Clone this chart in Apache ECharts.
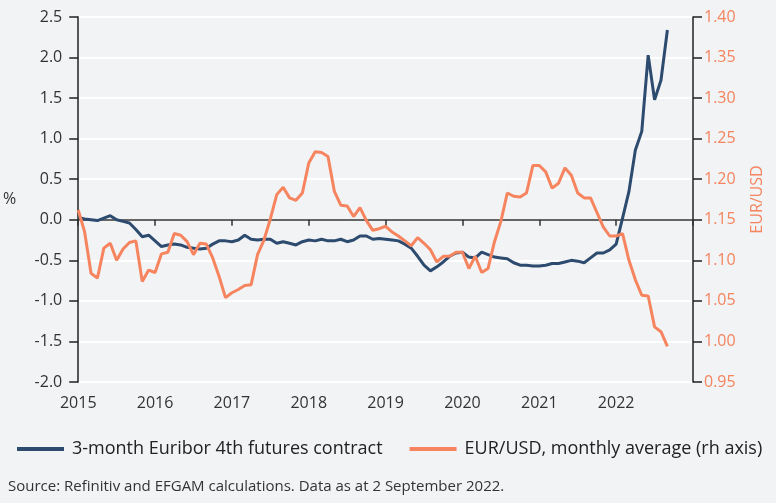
<!DOCTYPE html>
<html>
<head>
<meta charset="utf-8">
<script src="https://cdn.jsdelivr.net/npm/echarts@6/dist/echarts.min.js"></script>
<style>
  html, body { margin: 0; padding: 0; background: #f2f3f5; }
  #chart { width: 776px; height: 503px; }
</style>
</head>
<body>
<div id="chart"></div>
<script>
// monthly categories Jan 2015 .. Jan 2023 (last one is the right edge)
const months = [];
for (let y = 2015; y <= 2022; y++) {
  for (let m = 1; m <= 12; m++) months.push(y + '-' + (m < 10 ? '0' + m : m));
}
months.push('2023-01');

// 3-month Euribor 4th futures contract, %
const euribor = [
  0.03, 0.01, 0.00, -0.01, 0.02, 0.05, 0.00, -0.02, -0.04, -0.12, -0.21, -0.19,
  -0.26, -0.33, -0.31, -0.30, -0.31, -0.34, -0.35, -0.36, -0.35, -0.30, -0.26, -0.26,
  -0.27, -0.25, -0.19, -0.24, -0.25, -0.24, -0.24, -0.29, -0.27, -0.29, -0.31, -0.27,
  -0.25, -0.26, -0.24, -0.26, -0.26, -0.24, -0.27, -0.25, -0.20, -0.20, -0.24, -0.23,
  -0.24, -0.25, -0.26, -0.30, -0.35, -0.45, -0.56, -0.63, -0.58, -0.52, -0.45, -0.41,
  -0.40, -0.46, -0.47, -0.40, -0.43, -0.46, -0.47, -0.48, -0.53, -0.56, -0.56, -0.57,
  -0.57, -0.56, -0.54, -0.54, -0.52, -0.50, -0.51, -0.53, -0.47, -0.41, -0.41, -0.37,
  -0.30, 0.02, 0.35, 0.86, 1.09, 2.03, 1.48, 1.72, 2.34
];

// EUR/USD monthly average (rh axis)
const eurusd = [
  1.162, 1.135, 1.084, 1.078, 1.115, 1.121, 1.100, 1.114, 1.122, 1.124, 1.074, 1.088,
  1.085, 1.108, 1.110, 1.133, 1.131, 1.123, 1.107, 1.121, 1.120, 1.103, 1.080, 1.054,
  1.060, 1.064, 1.069, 1.070, 1.107, 1.125, 1.151, 1.181, 1.190, 1.177, 1.174, 1.183,
  1.220, 1.234, 1.233, 1.228, 1.185, 1.168, 1.167, 1.154, 1.165, 1.149, 1.137, 1.139,
  1.142, 1.135, 1.130, 1.124, 1.118, 1.128, 1.121, 1.113, 1.098, 1.105, 1.105, 1.110,
  1.110, 1.090, 1.105, 1.085, 1.090, 1.123, 1.148, 1.183, 1.179, 1.178, 1.183, 1.217,
  1.217, 1.209, 1.189, 1.195, 1.214, 1.205, 1.183, 1.177, 1.177, 1.159, 1.141, 1.130,
  1.130, 1.133, 1.100, 1.076, 1.057, 1.056, 1.018, 1.012, 0.994
];

const font = 'Open Sans';
const blue = '#2d4a6f';
const orange = '#f5845f';

const chart = echarts.init(document.getElementById('chart'));
chart.setOption({
  backgroundColor: '#f2f3f5',
  animation: false,
  grid: { left: 77, right: 83, top: 17, bottom: 121 },
  legend: {
    left: 12,
    top: 435,
    icon: 'rect',
    itemWidth: 47,
    itemHeight: 4,
    itemGap: 27,
    textStyle: { fontFamily: font, fontSize: 18, color: '#222', padding: [0, 0, 0, 3] },
    data: ['3-month Euribor 4th futures contract', 'EUR/USD, monthly average (rh axis)']
  },
  xAxis: {
    type: 'category',
    data: months,
    boundaryGap: false,
    axisLine: { lineStyle: { color: '#333', width: 1.5 } },
    axisTick: {
      length: 6,
      lineStyle: { color: '#333', width: 1.5 },
      interval: (i) => i % 12 === 0
    },
    axisLabel: {
      interval: (i) => i % 12 === 0,
      formatter: (v) => (v.slice(0, 4) === '2023' ? '' : v.slice(0, 4)),
      fontFamily: font, fontSize: 16, color: '#333', margin: 13
    },
    splitLine: { show: false }
  },
  yAxis: [
    {
      type: 'value',
      min: -2, max: 2.5, interval: 0.5,
      name: '%',
      nameLocation: 'middle',
      nameRotate: 0,
      nameGap: 62,
      nameTextStyle: { fontFamily: font, fontSize: 16, color: '#333' },
      axisLine: { show: true, lineStyle: { color: '#222', width: 1.5 } },
      axisTick: { show: true, length: 9, lineStyle: { color: '#222', width: 1.5 } },
      axisLabel: {
        formatter: (v) => v.toFixed(1),
        fontFamily: font, fontSize: 16, color: '#333', margin: 16
      },
      splitLine: { lineStyle: { color: '#ffffff', width: 2 } }
    },
    {
      type: 'value',
      position: 'right',
      min: 0.95, max: 1.40, interval: 0.05,
      name: 'EUR/USD',
      nameLocation: 'middle',
      nameRotate: 90,
      nameGap: 56,
      nameTextStyle: { fontFamily: font, fontSize: 16, color: orange },
      axisLine: { show: true, lineStyle: { color: '#222', width: 1.5 } },
      axisTick: { show: true, length: 9, lineStyle: { color: '#222', width: 1.5 } },
      axisLabel: {
        formatter: (v) => v.toFixed(2),
        fontFamily: font, fontSize: 16, color: orange, margin: 11
      },
      splitLine: { show: false }
    }
  ],
  series: [
    {
      name: '3-month Euribor 4th futures contract',
      type: 'line',
      data: euribor,
      yAxisIndex: 0,
      showSymbol: false,
      lineStyle: { color: blue, width: 3 },
      itemStyle: { color: blue }
    },
    {
      name: 'EUR/USD, monthly average (rh axis)',
      type: 'line',
      data: eurusd,
      yAxisIndex: 1,
      showSymbol: false,
      lineStyle: { color: orange, width: 3 },
      itemStyle: { color: orange }
    }
  ],
  graphic: [
    {
      type: 'text',
      left: 8,
      top: 479,
      style: {
        text: 'Source: Refinitiv and EFGAM calculations. Data as at 2 September 2022.',
        font: '15px "Open Sans"',
        fill: '#333'
      }
    }
  ]
});
</script>
</body>
</html>
